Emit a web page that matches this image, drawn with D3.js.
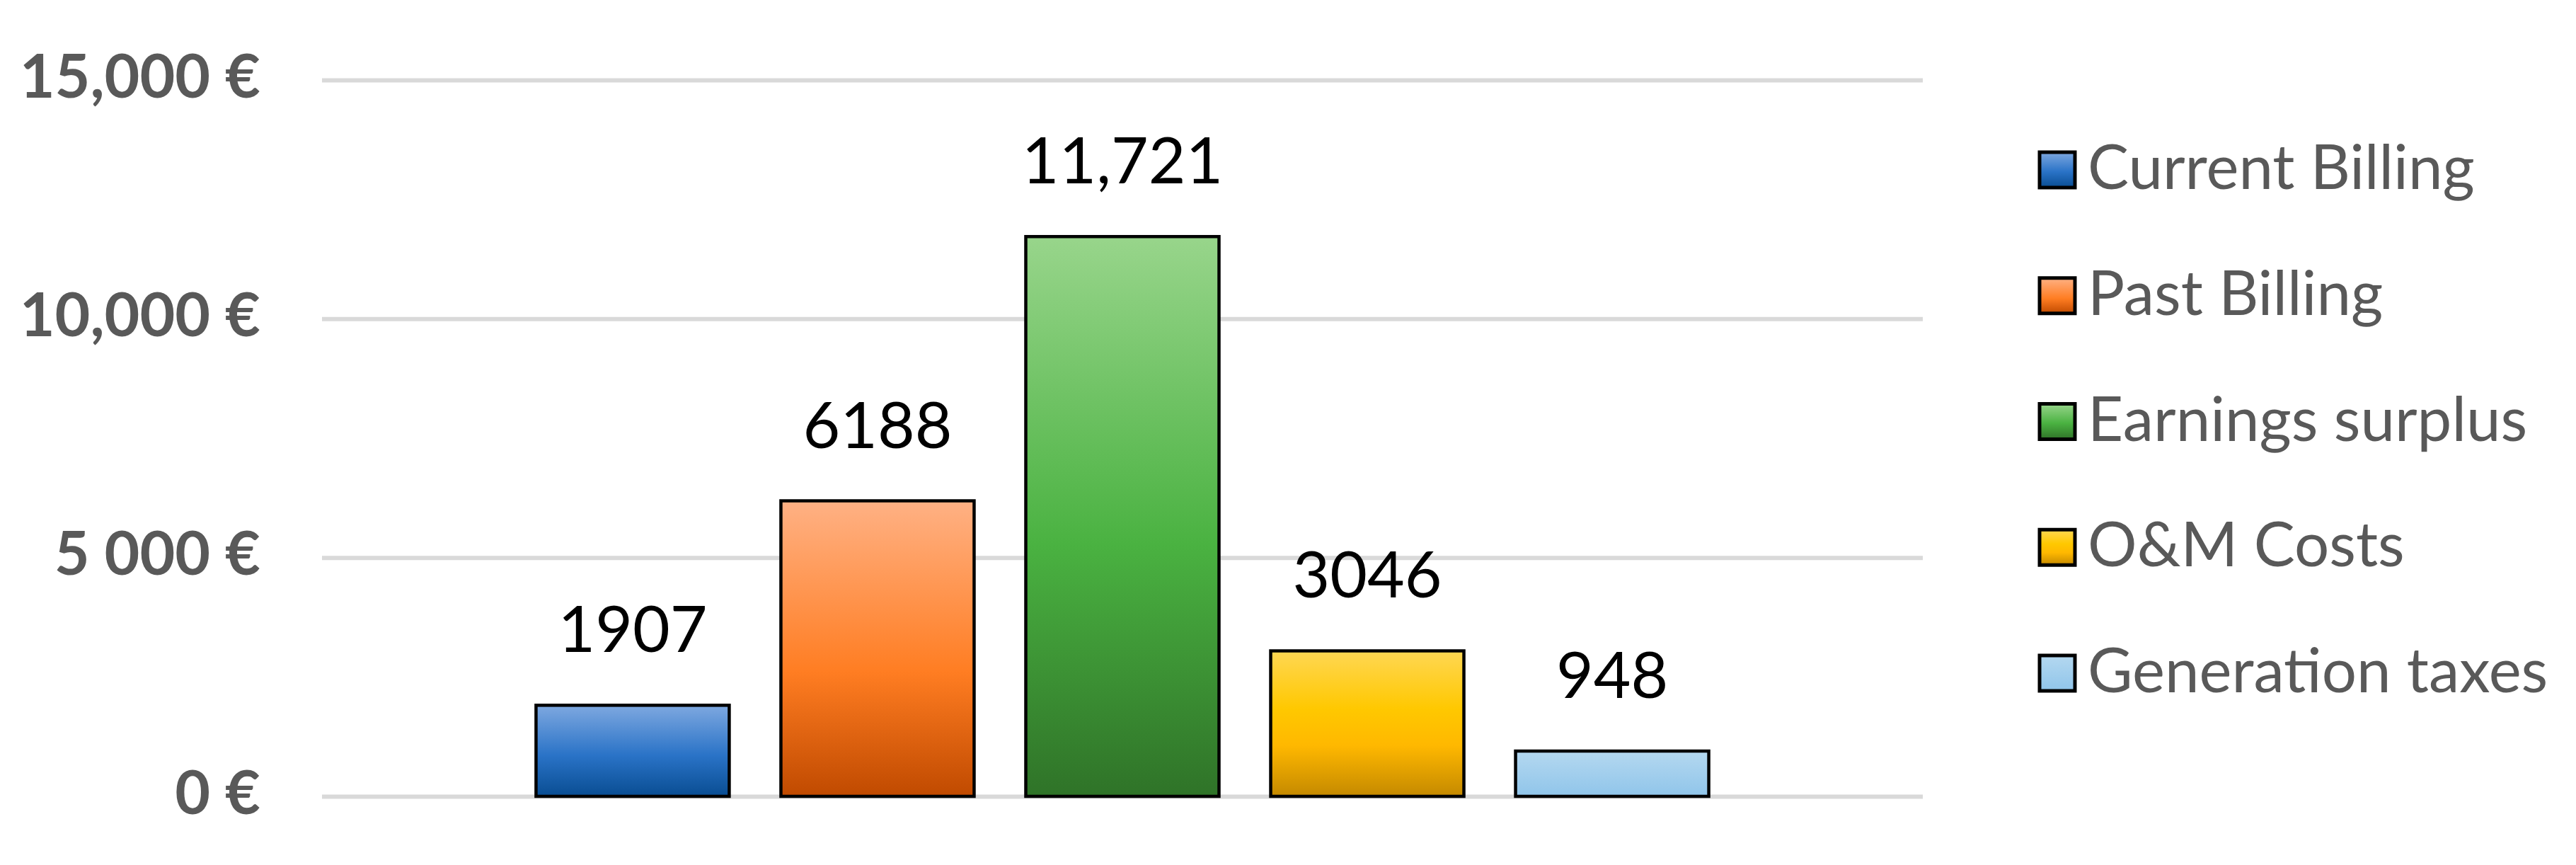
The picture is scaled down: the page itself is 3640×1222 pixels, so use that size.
<!DOCTYPE html>
<html>
<head>
<meta charset="utf-8">
<script src="https://cdn.jsdelivr.net/npm/d3@7"></script>
<style>
  html, body { margin: 0; padding: 0; background: #ffffff; }
  svg { display: block; }
</style>
</head>
<body>
<svg id="chart" width="3640" height="1222"></svg>
<script>
// ---- data ----
const series = ["Current Billing", "Past Billing", "Earnings surplus", "O&M Costs", "Generation taxes"];
const values = [1907, 6188, 11721, 3046, 948];
const valueLabels = ["1907", "6188", "11,721", "3046", "948"];
const tickValues = [0, 5000, 10000, 15000];
const tickLabels = ["0 €", "5 000 €", "10,000 €", "15,000 €"];
const gradients = [
  [["0%", "#7ea8e0"], ["55%", "#2a73c7"], ["100%", "#094d92"]],
  [["0%", "#ffb184"], ["58%", "#ff7d22"], ["100%", "#c04a00"]],
  [["0%", "#98d58b"], ["55%", "#4ab241"], ["100%", "#2f7328"]],
  [["0%", "#ffd753"], ["40%", "#ffc800"], ["65%", "#ffb800"], ["100%", "#c48900"]],
  [["0%", "#b4d8f0"], ["100%", "#90c5ea"]]
];

// ---- layout ----
const plotLeft = 455, plotRight = 2717, plotTop = 113, plotBottom = 1125;
const svg = d3.select("#chart");

const defs = svg.append("defs");
gradients.forEach((stops, i) => {
  const g = defs.append("linearGradient")
    .attr("id", "grad" + i)
    .attr("x1", 0).attr("y1", 0).attr("x2", 0).attr("y2", 1);
  stops.forEach(s => g.append("stop").attr("offset", s[0]).attr("stop-color", s[1]));
});

const y = d3.scaleLinear().domain([0, 15000]).range([plotBottom, plotTop]);
const x = d3.scaleBand().domain(series).range([plotLeft, plotRight])
  .paddingInner(0.211).paddingOuter(0.874);

// gridlines + tick labels
const axis = d3.axisLeft(y)
  .tickValues(tickValues)
  .tickSize(-(plotRight - plotLeft))
  .tickPadding(87)
  .tickFormat((d, i) => tickLabels[i]);

const gAxis = svg.append("g")
  .attr("transform", `translate(${plotLeft},0)`)
  .call(axis);
gAxis.select(".domain").remove();
gAxis.selectAll(".tick line")
  .attr("stroke", "#d9d9d9")
  .attr("stroke-width", 6);
gAxis.selectAll(".tick text")
  .attr("fill", "#595959")
  .attr("font-family", "Lato, 'Open Sans', sans-serif")
  .attr("font-weight", "bold")
  .attr("font-size", 86)
  .attr("dy", null)
  .attr("y", 24);

// bars
svg.append("g").selectAll("rect")
  .data(series)
  .join("rect")
  .attr("x", d => x(d))
  .attr("y", (d, i) => y(values[i]))
  .attr("width", x.bandwidth())
  .attr("height", (d, i) => y(0) - y(values[i]))
  .attr("fill", (d, i) => `url(#grad${i})`)
  .attr("stroke", "#000")
  .attr("stroke-width", 4.5);

// value labels
svg.append("g").selectAll("text")
  .data(series)
  .join("text")
  .attr("x", d => x(d) + x.bandwidth() / 2)
  .attr("y", (d, i) => y(values[i]) - 75)
  .attr("text-anchor", "middle")
  .attr("font-family", "Lato, 'Open Sans', sans-serif")
  .attr("font-size", 91)
  .attr("fill", "#000")
  .text((d, i) => valueLabels[i]);

// legend
const legendX = 2880, legendY0 = 241, legendStep = 177.75;
const leg = svg.append("g").selectAll("g")
  .data(series)
  .join("g")
  .attr("transform", (d, i) => `translate(${legendX},${legendY0 + i * legendStep})`);
leg.append("rect")
  .attr("x", 2).attr("y", -26)
  .attr("width", 50).attr("height", 50)
  .attr("fill", (d, i) => `url(#grad${i})`)
  .attr("stroke", "#000")
  .attr("stroke-width", 5);
leg.append("text")
  .attr("x", 70).attr("y", 26)
  .attr("font-family", "Lato, 'Open Sans', sans-serif")
  .attr("font-size", 87)
  .attr("fill", "#595959")
  .text(d => d);
</script>
</body>
</html>
